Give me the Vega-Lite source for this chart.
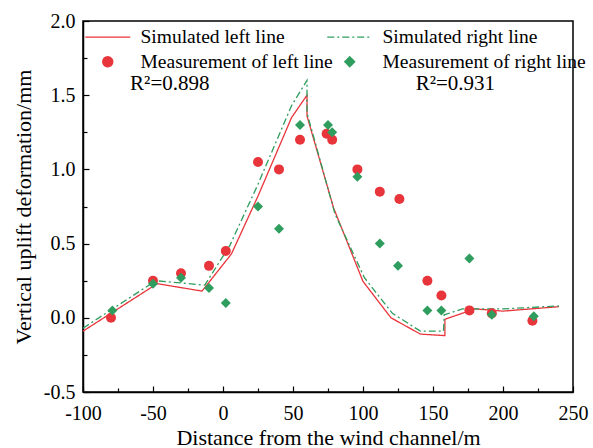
{
  "$schema": "https://vega.github.io/schema/vega-lite/v6.json",
  "width": 490,
  "height": 371,
  "autosize": "none",
  "padding": {"left": 83, "top": 21, "right": 20, "bottom": 56},
  "background": "white",
  "config": {
    "view": {"stroke": "black", "strokeWidth": 1.5},
    "axis": {
      "grid": false,
      "domainColor": "black",
      "domainWidth": 1.5,
      "tickColor": "black",
      "tickWidth": 1.2,
      "labelFont": "Liberation Serif",
      "labelFontSize": 20,
      "labelColor": "black",
      "titleFont": "Liberation Serif",
      "titleFontSize": 22,
      "titleFontWeight": "normal",
      "titleColor": "black"
    }
  },
  "datasets": {
    "sim": [
      {"i": 1, "x": -100, "y": -0.09, "series": "Simulated left line"},
      {"i": 2, "x": -47, "y": 0.23, "series": "Simulated left line"},
      {"i": 3, "x": -15, "y": 0.18, "series": "Simulated left line"},
      {"i": 4, "x": 6, "y": 0.43, "series": "Simulated left line"},
      {"i": 5, "x": 25, "y": 0.82, "series": "Simulated left line"},
      {"i": 6, "x": 49, "y": 1.35, "series": "Simulated left line"},
      {"i": 7, "x": 60, "y": 1.5, "series": "Simulated left line"},
      {"i": 8, "x": 60, "y": 1.36, "series": "Simulated left line"},
      {"i": 9, "x": 79, "y": 0.74, "series": "Simulated left line"},
      {"i": 10, "x": 100, "y": 0.245, "series": "Simulated left line"},
      {"i": 11, "x": 120, "y": 0.0, "series": "Simulated left line"},
      {"i": 12, "x": 141, "y": -0.11, "series": "Simulated left line"},
      {"i": 13, "x": 158.5, "y": -0.12, "series": "Simulated left line"},
      {"i": 14, "x": 158.5, "y": -0.01, "series": "Simulated left line"},
      {"i": 15, "x": 180, "y": 0.06, "series": "Simulated left line"},
      {"i": 16, "x": 200, "y": 0.045, "series": "Simulated left line"},
      {"i": 17, "x": 240, "y": 0.075, "series": "Simulated left line"},
      {"i": 1, "x": -100, "y": -0.07, "series": "Simulated right line"},
      {"i": 2, "x": -48, "y": 0.25, "series": "Simulated right line"},
      {"i": 3, "x": -13, "y": 0.22, "series": "Simulated right line"},
      {"i": 4, "x": 5, "y": 0.49, "series": "Simulated right line"},
      {"i": 5, "x": 25, "y": 0.9, "series": "Simulated right line"},
      {"i": 6, "x": 49, "y": 1.43, "series": "Simulated right line"},
      {"i": 7, "x": 60, "y": 1.6, "series": "Simulated right line"},
      {"i": 8, "x": 60, "y": 1.38, "series": "Simulated right line"},
      {"i": 9, "x": 80, "y": 0.7, "series": "Simulated right line"},
      {"i": 10, "x": 101, "y": 0.27, "series": "Simulated right line"},
      {"i": 11, "x": 121, "y": 0.03, "series": "Simulated right line"},
      {"i": 12, "x": 141, "y": -0.09, "series": "Simulated right line"},
      {"i": 13, "x": 157.5, "y": -0.09, "series": "Simulated right line"},
      {"i": 14, "x": 158, "y": 0.02, "series": "Simulated right line"},
      {"i": 15, "x": 171, "y": 0.06, "series": "Simulated right line"},
      {"i": 16, "x": 200, "y": 0.06, "series": "Simulated right line"},
      {"i": 17, "x": 240, "y": 0.08, "series": "Simulated right line"}
    ],
    "meas": [
      {"x": -80, "y": 0.0, "series": "Measurement of left line"},
      {"x": -50, "y": 0.25, "series": "Measurement of left line"},
      {"x": -30, "y": 0.3, "series": "Measurement of left line"},
      {"x": -10, "y": 0.35, "series": "Measurement of left line"},
      {"x": 2, "y": 0.45, "series": "Measurement of left line"},
      {"x": 25, "y": 1.05, "series": "Measurement of left line"},
      {"x": 40, "y": 1.0, "series": "Measurement of left line"},
      {"x": 55, "y": 1.2, "series": "Measurement of left line"},
      {"x": 74, "y": 1.24, "series": "Measurement of left line"},
      {"x": 78, "y": 1.2, "series": "Measurement of left line"},
      {"x": 96, "y": 1.0, "series": "Measurement of left line"},
      {"x": 112, "y": 0.85, "series": "Measurement of left line"},
      {"x": 126, "y": 0.8, "series": "Measurement of left line"},
      {"x": 146, "y": 0.25, "series": "Measurement of left line"},
      {"x": 156, "y": 0.15, "series": "Measurement of left line"},
      {"x": 176, "y": 0.05, "series": "Measurement of left line"},
      {"x": 192, "y": 0.03, "series": "Measurement of left line"},
      {"x": 221, "y": -0.02, "series": "Measurement of left line"},
      {"x": -79, "y": 0.05, "series": "Measurement of right line"},
      {"x": -50, "y": 0.23, "series": "Measurement of right line"},
      {"x": -30, "y": 0.27, "series": "Measurement of right line"},
      {"x": -10, "y": 0.2, "series": "Measurement of right line"},
      {"x": 2, "y": 0.1, "series": "Measurement of right line"},
      {"x": 25, "y": 0.75, "series": "Measurement of right line"},
      {"x": 40, "y": 0.6, "series": "Measurement of right line"},
      {"x": 55, "y": 1.3, "series": "Measurement of right line"},
      {"x": 75, "y": 1.3, "series": "Measurement of right line"},
      {"x": 78, "y": 1.25, "series": "Measurement of right line"},
      {"x": 96, "y": 0.95, "series": "Measurement of right line"},
      {"x": 112, "y": 0.5, "series": "Measurement of right line"},
      {"x": 125, "y": 0.35, "series": "Measurement of right line"},
      {"x": 146, "y": 0.05, "series": "Measurement of right line"},
      {"x": 156, "y": 0.05, "series": "Measurement of right line"},
      {"x": 176, "y": 0.4, "series": "Measurement of right line"},
      {"x": 192, "y": 0.02, "series": "Measurement of right line"},
      {"x": 222, "y": 0.01, "series": "Measurement of right line"}
    ],
    "notes": [
      {"x": -38, "y": 1.535, "label": "R²=0.898"},
      {"x": 166, "y": 1.535, "label": "R²=0.931"}
    ]
  },
  "encoding": {
    "x": {
      "field": "x",
      "type": "quantitative",
      "scale": {"domain": [-100, 250], "nice": false, "zero": false},
      "axis": {
        "title": "Distance from the wind channel/m",
        "values": [-100, -75, -50, -25, 0, 25, 50, 75, 100, 125, 150, 175, 200, 225, 250],
        "labelExpr": "datum.value % 50 === 0 ? '' + datum.value : ''",
        "tickSize": {"condition": {"test": "datum.value % 50 === 0", "value": -6}, "value": -4},
        "labelPadding": 17,
        "titlePadding": 2,
        "labelFlush": false,
        "labelOverlap": false
      }
    },
    "y": {
      "field": "y",
      "type": "quantitative",
      "scale": {"domain": [-0.5, 2.0], "nice": false, "zero": false},
      "axis": {
        "title": "Vertical uplift deformation/mm",
        "values": [-0.5, -0.25, 0, 0.25, 0.5, 0.75, 1.0, 1.25, 1.5, 1.75, 2.0],
        "labelExpr": "datum.value % 0.5 === 0 ? replace(format(datum.value, '.1f'), '\u2212', '-') : ''",
        "tickSize": {"condition": {"test": "datum.value % 0.5 === 0", "value": -6}, "value": -4},
        "labelPadding": 14,
        "titlePadding": 8,
        "labelFlush": false,
        "labelOverlap": false
      }
    }
  },
  "layer": [
    {
      "data": {"name": "sim"},
      "mark": {"type": "line", "strokeWidth": 1.3},
      "encoding": {
        "order": {"field": "i", "type": "quantitative"},
        "color": {
          "field": "series",
          "type": "nominal",
          "scale": {
            "domain": ["Simulated left line", "Simulated right line", "Measurement of left line", "Measurement of right line"],
            "range": ["#e8353b", "#2e9d5e", "#e8353b", "#2e9d5e"]
          },
          "legend": {
            "title": null,
            "orient": "none",
            "direction": "horizontal",
            "legendX": 15,
            "legendY": 6,
            "columns": 2,
            "padding": 0,
            "columnPadding": -9,
            "rowPadding": 4,
            "symbolSize": 100,
            "symbolStrokeWidth": 1.3,
            "labelOffset": 23,
            "labelFont": "Liberation Serif",
            "labelFontSize": 19.5,
            "labelColor": "black",
            "labelLimit": 400,
            "encode": {
              "symbols": {
                "update": {
                  "fill": {"scale": "color", "field": "value"},
                  "stroke": {"scale": "color", "field": "value"}
                }
              }
            }
          }
        },
        "strokeDash": {
          "field": "series",
          "type": "nominal",
          "scale": {
            "domain": ["Simulated left line", "Simulated right line", "Measurement of left line", "Measurement of right line"],
            "range": [[1, 0], [7, 3, 2, 3], [1, 0], [1, 0]]
          }
        }
      }
    },
    {
      "data": {"name": "meas"},
      "mark": {"type": "point", "filled": true, "opacity": 1, "strokeWidth": 0},
      "encoding": {
        "color": {"field": "series", "type": "nominal"},
        "shape": {
          "field": "series",
          "type": "nominal",
          "scale": {
            "domain": ["Simulated left line", "Simulated right line", "Measurement of left line", "Measurement of right line"],
            "range": ["M-4.5,0H4.5", "M-4.5,0H4.5", "circle", "diamond"]
          }
        },
        "size": {
          "field": "series",
          "type": "nominal",
          "scale": {
            "domain": ["Simulated left line", "Simulated right line", "Measurement of left line", "Measurement of right line"],
            "range": [100, 100, 90, 130]
          },
          "legend": null
        }
      }
    },
    {
      "data": {"name": "notes"},
      "mark": {"type": "text", "font": "Liberation Serif", "fontSize": 21, "color": "black", "align": "center", "baseline": "alphabetic"},
      "encoding": {
        "text": {"field": "label", "type": "nominal"}
      }
    }
  ]
}
